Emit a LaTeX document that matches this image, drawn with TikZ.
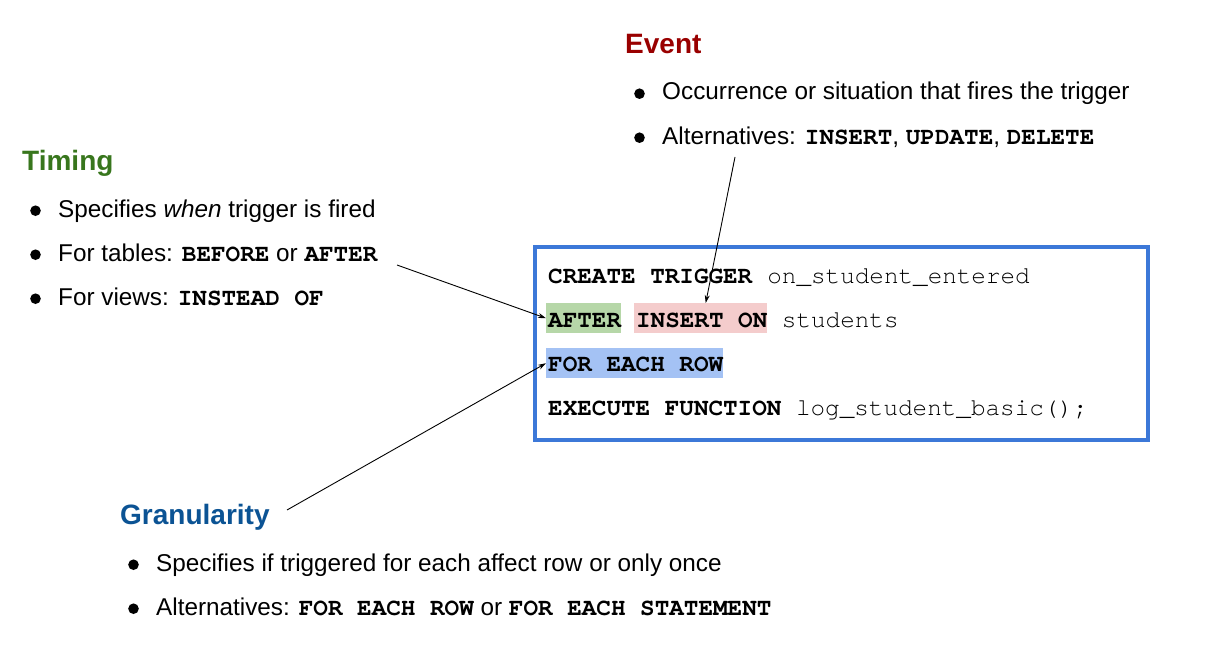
\documentclass[tikz,border=0pt]{standalone}
\usepackage{fontspec}
\setmainfont{Liberation Sans}
\newfontfamily\codefont{texgyrecursor}[Extension=.otf, UprightFont=*-regular, BoldFont=*-bold, ItalicFont=*-italic, BoldItalicFont=*-bolditalic]
\usetikzlibrary{arrows.meta}
\definecolor{evred}{HTML}{990000}
\definecolor{tmgreen}{HTML}{38761D}
\definecolor{grblue}{HTML}{0B5394}
\definecolor{boxblue}{HTML}{3C78D8}
\definecolor{hlgreen}{HTML}{B6D7A8}
\definecolor{hlred}{HTML}{F4CCCC}
\definecolor{hlblue}{HTML}{A4C2F4}
\newcommand{\cd}[1]{{\codefont\bfseries #1}}
\tikzset{
  title/.style={anchor=base west, inner sep=0, font=\fontsize{28}{32}\selectfont\bfseries},
  item/.style={anchor=base west, inner sep=0, font=\fontsize{24.3}{28}\selectfont},
  codeline/.style={anchor=base west, inner sep=0, font=\fontsize{24.3}{28}\selectfont\codefont},
  hl/.style={inner sep=0, minimum height=30pt, anchor=north west},
  arr/.style={-{Stealth[length=8pt,width=5pt]}, line width=0.9pt},
  dot/.style={fill=black},
}
\newcommand{\bul}[1]{\fill[dot] ([shift={(-22.5,-6.3)}]#1.base west) circle (5.3pt);}
\begin{document}
\begin{tikzpicture}[x=1pt,y=-1pt]
\useasboundingbox (0,0) rectangle (1209,658);
% Event
\node[title, text=evred] (evt) at (625,54) {Event};
\node[item] (ev1) at (662,100) {Occurrence or situation that fires the trigger};
\node[item] (ev2) at (662,144) {Alternatives: \cd{INSERT}, \cd{UPDATE}, \cd{DELETE}};
% Timing
\node[title, text=tmgreen] (tim) at (22,170) {Timing};
\node[item] (tm1) at (58,217) {Specifies \emph{when} trigger is fired};
\node[item] (tm2) at (58,261) {For tables: \cd{BEFORE} or \cd{AFTER}};
\node[item] (tm3) at (58,305) {For views: \cd{INSTEAD OF}};
% Granularity
\node[title, text=grblue] (gra) at (120,524) {Granularity};
\node[item] (gr1) at (156,571) {Specifies if triggered for each affect row or only once};
\node[item] (gr2) at (156,615) {Alternatives: \cd{FOR EACH ROW} or \cd{FOR EACH STATEMENT}};
\bul{ev1}\bul{ev2}\bul{tm1}\bul{tm2}\bul{tm3}\bul{gr1}\bul{gr2}
% Code box
\node[draw=boxblue, line width=4pt, inner sep=0, minimum width=613pt, minimum height=193pt, anchor=north west] (box) at (533,245) {};
\node[hl, fill=hlgreen, minimum width=75pt] (after) at (546,303) {};
\node[hl, fill=hlred, minimum width=133pt] (ins) at (634,303) {};
\node[hl, fill=hlblue, minimum width=177pt] (row) at (546,348) {};
\node[codeline] (c1) at (548,283) {\textbf{CREATE TRIGGER} on\_student\_entered};
\node[codeline] (c2) at (548,327) {\textbf{AFTER} \textbf{INSERT ON} students};
\node[codeline] (c3) at (548,371) {\textbf{FOR EACH ROW}};
\node[codeline] (c4) at (548,415) {\textbf{EXECUTE FUNCTION} log\_student\_basic();};
% Arrows
\coordinate (evs) at (735,157);
\coordinate (tms) at (397,265);
\coordinate (grs) at (287,510);
\draw[arr] (evs) -- ([xshift=5pt]ins.north);
\draw[arr] (tms) -- (after.west);
\draw[arr] (grs) -- (row.west);
\end{tikzpicture}
\end{document}
